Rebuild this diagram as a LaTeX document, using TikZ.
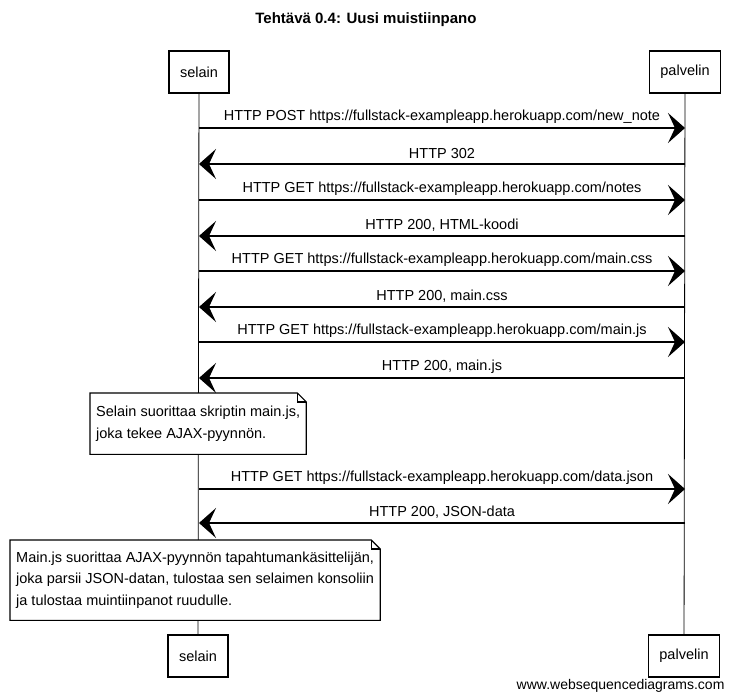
\documentclass[tikz,border=0pt]{standalone}
\usepackage{fontspec}
\setmainfont{Liberation Sans}
\usetikzlibrary{positioning,arrows.meta}

\newcommand{\txtsize}{\fontsize{14.5}{21.5}\selectfont}

\tikzset{
  actor/.style={draw,line width=1.2pt,fill=white,minimum height=42pt,inner xsep=11pt,font=\txtsize},
  lifeline/.style={line width=0.8pt},
  msg/.style={line width=1.2pt,-{Stealth[length=17pt,width=30pt,inset=7pt]}},
  msglabel/.style={above=1pt,font=\txtsize},
  notetext/.style={fill=white,align=left,font=\txtsize,anchor=north west,inner xsep=6pt},
  notebox/.style={line width=1.1pt}
}

\begin{document}
\begin{tikzpicture}[x=1pt,y=-1pt]
  \useasboundingbox (0,0) rectangle (735,700);
  \node[font=\bfseries\fontsize{15}{18}\selectfont] (title) at (366,20) {Tehtävä 0.4: Uusi muistiinpano};

  % osapuolet
  \node[actor] (selainA) at (199,72) {selain};
  \node[actor] (palvelinA) at (685,72) {palvelin};
  \node[actor] (selainB) at (198,656) {selain};
  \node[actor] (palvelinB) at (684,656) {palvelin};
  \draw[lifeline] (selainA) -- (selainB);
  \draw[lifeline] (palvelinA) -- (palvelinB);

  % pyynnot selaimelta palvelimelle
  \foreach \y/\txt [count=\i] in {
      128/{HTTP POST https://fullstack-exampleapp.herokuapp.com/new\_note},
      200/{HTTP GET https://fullstack-exampleapp.herokuapp.com/notes},
      271/{HTTP GET https://fullstack-exampleapp.herokuapp.com/main.css},
      342/{HTTP GET https://fullstack-exampleapp.herokuapp.com/main.js},
      489/{HTTP GET https://fullstack-exampleapp.herokuapp.com/data.json}} {
    \coordinate (req\i s) at (199,\y);
    \coordinate (req\i p) at (685,\y);
    \draw[msg] (req\i s) -- node[msglabel] {\txt} (req\i p);
  }

  % vastaukset
  \foreach \y/\txt [count=\i] in {
      164/{HTTP 302},
      236/{HTTP 200, HTML-koodi},
      307/{HTTP 200, main.css},
      378/{HTTP 200, main.js},
      523/{HTTP 200, JSON-data}} {
    \coordinate (res\i p) at (685,\y);
    \coordinate (res\i s) at (199,\y);
    \draw[msg] (res\i p) -- node[msglabel] {\txt} (res\i s);
  }

  % muistiinpanot
  \node[notetext,minimum height=61pt] (note1) at (90,393)
    {Selain suorittaa skriptin main.js,\\joka tekee AJAX-pyynnön.};
  \draw[notebox] (note1.north west) -- ([xshift=-9pt]note1.north east)
    -- ([yshift=-9pt]note1.north east) -- (note1.south east) -- (note1.south west) -- cycle;
  \draw[notebox] ([xshift=-9pt]note1.north east) -- ([xshift=-9pt,yshift=-9pt]note1.north east)
    -- ([yshift=-9pt]note1.north east);

  \node[notetext,minimum height=80pt] (note2) at (10,540)
    {Main.js suorittaa AJAX-pyynnön tapahtumankäsittelijän,\\joka parsii JSON-datan, tulostaa sen selaimen konsoliin\\ja tulostaa muintiinpanot ruudulle.};
  \draw[notebox] (note2.north west) -- ([xshift=-9pt]note2.north east)
    -- ([yshift=-9pt]note2.north east) -- (note2.south east) -- (note2.south west) -- cycle;
  \draw[notebox] ([xshift=-9pt]note2.north east) -- ([xshift=-9pt,yshift=-9pt]note2.north east)
    -- ([yshift=-9pt]note2.north east);

  \node[font=\fontsize{14}{16}\selectfont,anchor=east] (wsd) at (728,686) {www.websequencediagrams.com};
\end{tikzpicture}
\end{document}
